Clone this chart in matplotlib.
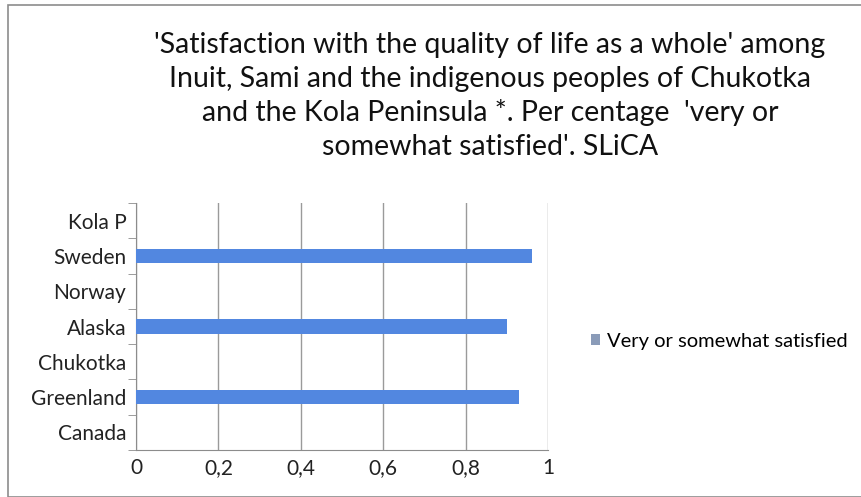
import matplotlib
matplotlib.use("Agg")
import matplotlib.pyplot as plt
from matplotlib.patches import Rectangle, Patch
from matplotlib.ticker import FixedLocator

categories = ["Canada", "Greenland", "Chukotka", "Alaska", "Norway", "Sweden", "Kola P"]
satisfied = [None, 0.93, None, 0.90, None, 0.96, None]
xticks = [0, 0.2, 0.4, 0.6, 0.8, 1]
xtick_labels = ["0", "0,2", "0,4", "0,6", "0,8", "1"]
series_name = "Very or somewhat satisfied"
title = ("'Satisfaction with the quality of life as a whole' among\n"
         "Inuit, Sami and the indigenous peoples of Chukotka\n"
         "and the Kola Peninsula *. Per centage  'very or\n"
         "somewhat satisfied'. SLiCA")

W, H = 862, 497
fig = plt.figure(figsize=(W / 100, H / 100), dpi=100)
plt.rcParams["font.family"] = ["Lato", "DejaVu Sans"]

# outer chart frame
fig.patches.append(Rectangle((8 / W, 0), 1.0, 1 - 5 / H, transform=fig.transFigure,
                             fill=False, edgecolor="#8c8c8c", linewidth=1.2))

ax = fig.add_axes([136 / W, 1 - 450 / H, (548 - 136) / W, (450 - 203) / H])

bar_color = "#5287e0"
ypos = list(range(len(categories)))
vals = [v if v is not None else 0 for v in satisfied]
bars = ax.barh(ypos, vals, height=0.4, color=bar_color, edgecolor="none", zorder=3)
for b, v in zip(bars, satisfied):
    if v is None:
        b.set_visible(False)

ax.set_xlim(0, 1)
ax.set_ylim(-0.5, len(categories) - 0.5)
ax.set_xticks(xticks)
ax.set_xticklabels(xtick_labels, fontsize=15, color="#222222")
ax.set_yticks(ypos)
ax.set_yticklabels(categories, fontsize=15, color="#222222")
ax.tick_params(axis="y", length=0, pad=7)
ax.tick_params(axis="x", length=0, pad=6)
ax.yaxis.set_minor_locator(FixedLocator([i - 0.5 for i in range(len(categories) + 1)]))
ax.tick_params(axis="y", which="minor", length=6, color="#8c8c8c")
ax.grid(axis="x", color="#9a9a9a", linewidth=1, zorder=0)
for s in ["top", "right"]:
    ax.spines[s].set_visible(False)
for s in ["left", "bottom"]:
    ax.spines[s].set_color("#8c8c8c")

fig.text(490 / W, 1 - 96 / H, title, ha="center", va="center", fontsize=20.5,
         color="#111111", linespacing=1.36)

handle = Patch(facecolor="#8a9bb8", edgecolor="none")
fig.legend(handles=[handle], labels=[series_name], loc="center left",
           bbox_to_anchor=(581 / W, 1 - 341 / H), frameon=False, fontsize=14.5,
           handlelength=0.45, handleheight=0.45, handletextpad=0.35, borderpad=0)

fig.savefig("out.png", dpi=100, facecolor="white")
